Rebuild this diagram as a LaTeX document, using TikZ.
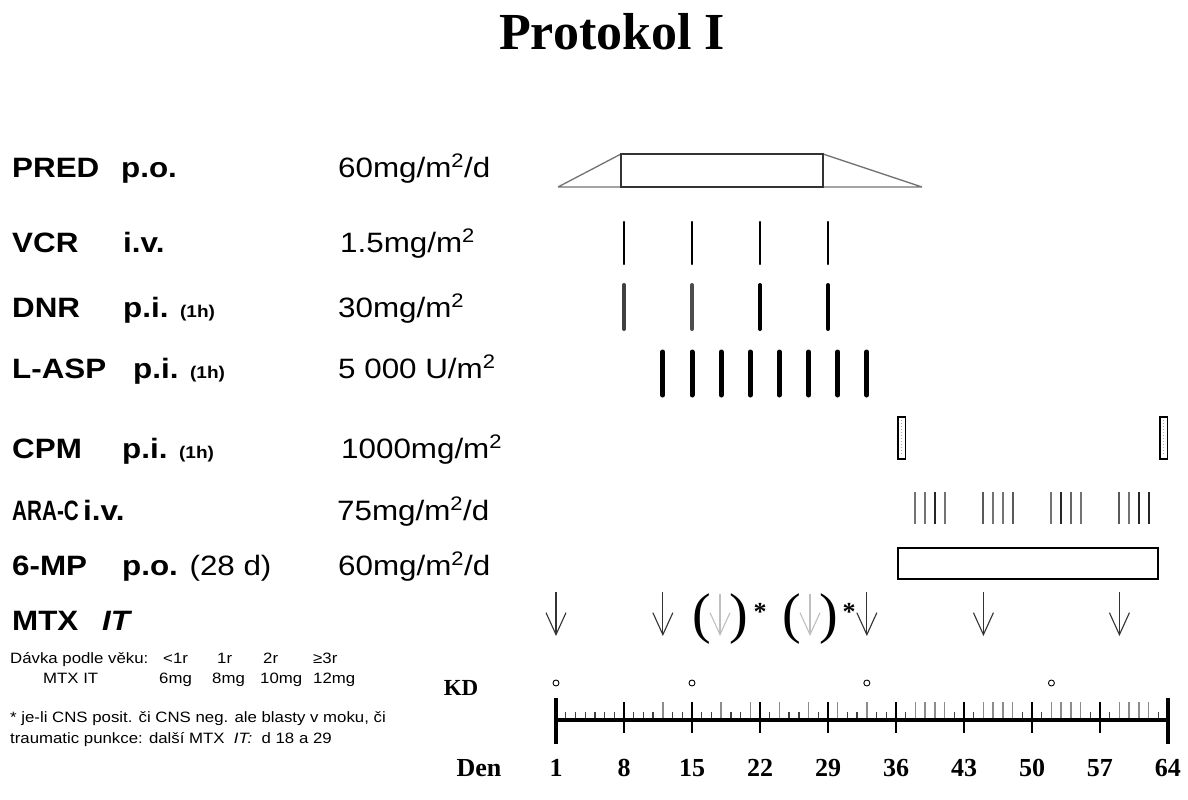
\documentclass[tikz,border=0pt]{standalone}
\usepackage{fontspec}
\usepackage{graphicx}
\setmainfont{Liberation Serif}
\newfontfamily\arialx[FakeStretch=1.12]{Liberation Sans}
\usetikzlibrary{arrows.meta}

\newcommand{\msq}{\textsuperscript{2}}
\newcommand{\hsm}[1]{{\fontsize{17}{19}\selectfont #1}}

\tikzset{
  drug/.style={anchor=base west,inner sep=0pt,font=\arialx\bfseries\fontsize{28}{30}\selectfont},
  dose/.style={anchor=base west,inner sep=0pt,font=\arialx\fontsize{28}{30}\selectfont},
  note/.style={anchor=base west,inner sep=0pt,font=\arialx\fontsize{15}{17}\selectfont},
  daynum/.style={inner sep=0pt,font=\bfseries\fontsize{26}{28}\selectfont},
  mtx/.style={-{Straight Barb[length=22pt,width=20pt]},line width=1.1pt},
}

\begin{document}
\begin{tikzpicture}[x=1pt,y=-1pt,declare function={dx(\d)=556+(\d-1)*9.714;}]
        \useasboundingbox (0,0) rectangle (1188,800);
        \fill[white] (0,0) rectangle (1188,800);

        \node[anchor=base,inner sep=0pt,font=\bfseries\fontsize{52}{56}\selectfont] (title) at (612,50) {Protokol I};

        \begin{scope}[every node/.style={drug}]
          \node (pred) at (12,177) {PRED};
          \node (vcr)  at (12,252) {VCR};
          \node (dnr)  at (12,317) {DNR};
          \node (lasp) at (12,378) {L-ASP};
          \node (cpm)  at (12,458) {CPM};
          \node (arac) at (12,520) {\scalebox{0.66}[1]{ARA-C}};
          \node (mp)   at (12,575) {6-MP};
          \node (mtx)  at (12,630) {MTX};
          \node (predr) at (121,177) {p.o.};
          \node (vcrr)  at (123,252) {i.v.};
          \node (dnrr)  at (123,317) {p.i. \hsm{(1h)}};
          \node (laspr) at (133,378) {p.i. \hsm{(1h)}};
          \node (cpmr)  at (122,458) {p.i. \hsm{(1h)}};
          \node (aracr) at (83,520)  {i.v.};
          \node (mpr)   at (122,575) {p.o. {\mdseries (28 d)}};
          \node (mtxr)  at (102,630) {\itshape IT};
        \end{scope}

        \begin{scope}[every node/.style={dose}]
          \node (predd) at (338,177) {60mg/m\msq/d};
          \node (vcrd)  at (340,252) {1.5mg/m\msq};
          \node (dnrd)  at (338,317) {30mg/m\msq};
          \node (laspd) at (338,378) {5 000 U/m\msq};
          \node (cpmd)  at (341,458) {1000mg/m\msq};
          \node (aracd) at (337,520) {75mg/m\msq/d};
          \node (mpd)   at (338,575) {60mg/m\msq/d};
        \end{scope}

        \begin{scope}[every node/.style={note}]
          \node (age)  at (10,663)  {Dávka podle věku:};
          \node (a0)   at (163,663) {<1r};
          \node (a1)   at (217,663) {1r};
          \node (a2)   at (263,663) {2r};
          \node (a3)   at (313,663) {≥3r};
          \node (mtxit) at (43,683) {MTX IT};
          \node (m0)   at (159,683) {6mg};
          \node (m1)   at (212,683) {8mg};
          \node (m2)   at (260,683) {10mg};
          \node (m3)   at (313,683) {12mg};
          \node (fn1)  at (10,722) {* je-li CNS posit. či CNS neg. ale blasty v moku, či};
          \node (fn2)  at (10,743) {traumatic punkce: další MTX \ \textit{IT:} \ d 18 a 29};
        \end{scope}

        \draw[black!55,line width=1.3pt] (558,187) -- (621,154) (823,154) -- (922,187) (558,187) -- (922,187);
        \draw[black!80,line width=1.5pt] (621,154) rectangle (823,187);

        \foreach \d in {8,15,22,29}
          \draw[line width=2.5pt,line cap=round] ({dx(\d)},222) -- ({dx(\d)},264);
        \foreach \d/\c in {8/black!75,15/black!70,22/black,29/black}
          \draw[line width=4pt,line cap=round,\c] ({dx(\d)},285) -- ({dx(\d)},329);
        \foreach \d in {12,15,...,33}
          \draw[line width=5pt,line cap=round] ({dx(\d)},352) -- ({dx(\d)},395);

        \foreach \a in {898,1160} {
          \draw[line width=1.5pt] (\a,417) rectangle (\a+7.5,459);
          \draw[black!35,line width=1pt,dotted] (\a+3.75,420) -- (\a+3.75,456);
        }

        \foreach \d/\c in {38/black!55,39/black!55,40/black!85,41/black!55,
                           45/black!65,46/black!55,47/black!55,48/black!65,
                           52/black!55,53/black!85,54/black!60,55/black!55,
                           59/black!65,60/black!55,61/black!85,62/black!85}
          \draw[line width=2pt,\c] ({dx(\d)},492) -- ({dx(\d)},524);

        \draw[line width=2pt] (898,548) rectangle (1158,579);

        \foreach \d in {1,12,33,45,59}
          \draw[mtx,black!80] ({dx(\d)},592) -- ({dx(\d)},636);
        \foreach \a in {720,810}
          \draw[mtx,black!25] (\a,594) -- (\a,636);
        \begin{scope}[every node/.style={inner sep=0pt,font=\fontsize{56}{58}\selectfont}]
          \node (lp1) at (702,619) {(};
          \node (rp1) at (739,619) {)};
          \node (lp2) at (792,619) {(};
          \node (rp2) at (829,619) {)};
        \end{scope}
        \begin{scope}[every node/.style={inner sep=0pt,font=\bfseries\fontsize{26}{28}\selectfont}]
          \node (st1) at (760,612) {*};
          \node (st2) at (849,612) {*};
        \end{scope}

        \node[daynum,font=\bfseries\fontsize{23}{25}\selectfont] (kd) at (461,688) {KD};
        \foreach \d in {1,15,33,52}
          \draw[line width=0.9pt] ({dx(\d)},683) circle[radius=3pt];

        \foreach \d in {2,...,63}
          \draw[line width=1.3pt,black!75] ({dx(\d)},712) -- ({dx(\d)},720);
        \foreach \d in {12,18,21,24,27,30,33,38,39,40,41,45,46,47,48,52,53,54,55,59,60,61,62}
          \draw[line width=1.3pt,black!45] ({dx(\d)},702) -- ({dx(\d)},720);
        \foreach \d in {8,15,...,57}
          \draw[line width=1.5pt] ({dx(\d)},702) -- ({dx(\d)},733);
        \draw[line width=3.5pt] ({dx(1)},720) -- ({dx(64)},720);
        \foreach \d in {1,64}
          \draw[line width=3.5pt] ({dx(\d)},698) -- ({dx(\d)},744);

        \node[daynum] (den) at (479,768) {Den};
        \foreach \d in {1,8,...,64}
          \node[daynum] (d\d) at ({dx(\d)},768) {\d};

      \end{tikzpicture}
\end{document}
